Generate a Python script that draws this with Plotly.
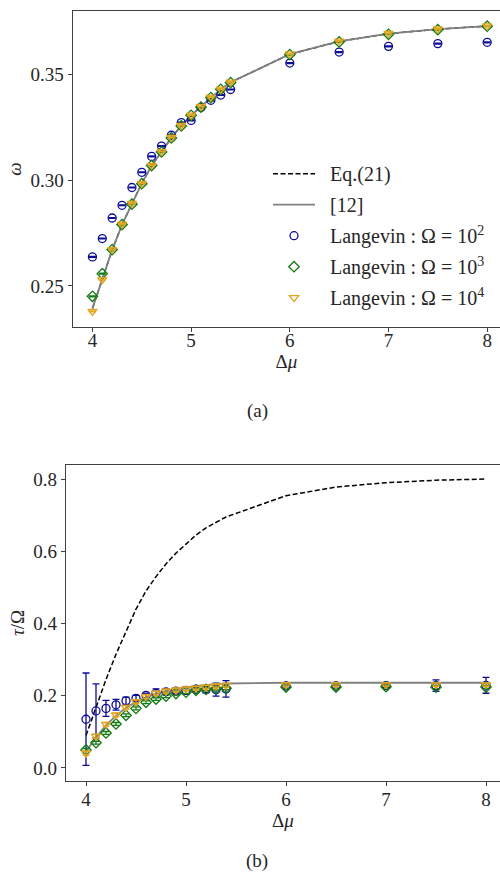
import plotly.graph_objects as go

# Chemical potential difference values where the model was evaluated
dmu = [4.0, 4.1, 4.2, 4.3, 4.4, 4.5, 4.6, 4.7, 4.8, 4.9, 5.0, 5.1, 5.2, 5.3, 5.4,
       6.0, 6.5, 7.0, 7.5, 8.0]

# ---- panel (a): frequency omega ----
omega_theory = [0.2394, 0.2535, 0.2670, 0.2790, 0.2888, 0.2985, 0.3068, 0.3135, 0.3200,
                0.3257, 0.3306, 0.3348, 0.3390, 0.3428, 0.3462, 0.3595, 0.3655, 0.3692,
                0.3713, 0.3728]
omega_om2 = [0.2637, 0.2724, 0.2821, 0.2881, 0.2965, 0.3037, 0.3112, 0.3161, 0.3212,
             0.3272, 0.3282, 0.3343, 0.3377, 0.3402, 0.3428, 0.3553, 0.3605, 0.3632,
             0.3645, 0.3651]
omega_om3 = [0.2451, 0.2558, 0.2672, 0.2790, 0.2886, 0.2983, 0.3069, 0.3133, 0.3199,
             0.3256, 0.3306, 0.3345, 0.3390, 0.3429, 0.3461, 0.3593, 0.3653, 0.3689,
             0.3711, 0.3727]
omega_om4 = [0.2380, 0.2530, 0.2672, 0.2792, 0.2890, 0.2985, 0.3070, 0.3135, 0.3202,
             0.3258, 0.3307, 0.3348, 0.3392, 0.3430, 0.3463, 0.3596, 0.3657, 0.3693,
             0.3714, 0.3729]
omega_err = [0.0002] * len(dmu)

# ---- panel (b): correlation time tau / Omega ----
tau_eq21 = [0.090, 0.170, 0.245, 0.315, 0.380, 0.440, 0.490, 0.530, 0.565, 0.595,
            0.620, 0.645, 0.665, 0.680, 0.695, 0.754, 0.778, 0.790, 0.797, 0.800]
tau_ref12 = [0.045, 0.085, 0.118, 0.145, 0.167, 0.183, 0.196, 0.206, 0.213, 0.219,
             0.223, 0.227, 0.230, 0.232, 0.234, 0.236, 0.236, 0.236, 0.236, 0.236]
tau_om2 = [0.135, 0.158, 0.165, 0.175, 0.186, 0.193, 0.201, 0.207, 0.211, 0.213,
           0.215, 0.218, 0.217, 0.217, 0.219, 0.227, 0.227, 0.228, 0.228, 0.229]
tau_om2_err = [0.128, 0.075, 0.022, 0.015, 0.010, 0.008, 0.006, 0.012, 0.008, 0.008,
               0.010, 0.006, 0.008, 0.018, 0.023, 0.006, 0.006, 0.005, 0.016, 0.022]
tau_om3 = [0.050, 0.070, 0.097, 0.122, 0.146, 0.165, 0.182, 0.191, 0.199, 0.206,
           0.210, 0.215, 0.218, 0.220, 0.221, 0.224, 0.224, 0.225, 0.224, 0.224]
tau_om3_err = [0.004] * len(dmu)
tau_om4 = [0.041, 0.088, 0.121, 0.147, 0.168, 0.184, 0.198, 0.207, 0.213, 0.216,
           0.219, 0.221, 0.224, 0.227, 0.229, 0.231, 0.231, 0.231, 0.231, 0.231]
tau_om4_err = [0.005] * len(dmu)

BLUE = "#0b0b96"
GREEN = "#117a11"
GOLD = "#e3a41e"
FONT = "Liberation Serif, DejaVu Serif, serif"
TXT = "#262626"
AX = "#404040"
PAD = "\u00a0\u00a0"

series = [
    (PAD + "Langevin : Ω = 10<sup>2</sup>", BLUE, "circle-open", 8),
    (PAD + "Langevin : Ω = 10<sup>3</sup>", GREEN, "diamond-open", 8),
    (PAD + "Langevin : Ω = 10<sup>4</sup>", GOLD, "triangle-down-open", 8),
]

fig = go.Figure()

# Panel (a)
fig.add_trace(go.Scatter(x=dmu, y=omega_theory, mode="lines", name=PAD + "Eq.(21)",
                         legendgroup="eq21",
                         line=dict(color="black", width=1.5, dash="5px,2.5px"),
                         xaxis="x", yaxis="y"))
fig.add_trace(go.Scatter(x=dmu, y=omega_theory, mode="lines", name=PAD + "[12]",
                         legendgroup="ref12",
                         line=dict(color="#808080", width=1.8),
                         xaxis="x", yaxis="y"))
for i, ((name, col, sym, size), vals) in enumerate(zip(series, [omega_om2, omega_om3, omega_om4])):
    fig.add_trace(go.Scatter(
        x=dmu, y=vals, mode="markers", name=name, legendgroup=f"lang{i}",
        marker=dict(symbol=sym, size=size, color=col, line=dict(width=1.3, color=col)),
        error_y=dict(type="data", array=omega_err, color=col, thickness=1.3, width=3.5),
        xaxis="x", yaxis="y"))

# Panel (b)
fig.add_trace(go.Scatter(x=dmu, y=tau_eq21, mode="lines", showlegend=False,
                         legendgroup="eq21",
                         line=dict(color="black", width=1.5, dash="5px,2.5px"),
                         xaxis="x2", yaxis="y2"))
fig.add_trace(go.Scatter(x=dmu, y=tau_ref12, mode="lines", showlegend=False,
                         legendgroup="ref12",
                         line=dict(color="#808080", width=1.8),
                         xaxis="x2", yaxis="y2"))
for i, ((name, col, sym, size), vals, errs) in enumerate(zip(
        series, [tau_om2, tau_om3, tau_om4], [tau_om2_err, tau_om3_err, tau_om4_err])):
    fig.add_trace(go.Scatter(
        x=dmu, y=vals, mode="markers", showlegend=False, legendgroup=f"lang{i}",
        marker=dict(symbol=sym, size=size, color=col, line=dict(width=1.3, color=col)),
        error_y=dict(type="data", array=errs, color=col, thickness=1.3, width=3.5),
        xaxis="x2", yaxis="y2"))

axis_common = dict(showgrid=False, zeroline=False, showline=True, linecolor=AX,
                   linewidth=1.25, ticks="outside", ticklen=4, tickwidth=1.1,
                   tickcolor=AX, tickfont=dict(family=FONT, size=19, color=TXT))

fig.update_layout(
    width=500, height=876,
    margin=dict(l=0, r=0, t=0, b=0),
    paper_bgcolor="white", plot_bgcolor="white",
    font=dict(family=FONT, size=19, color=TXT),
    xaxis=dict(domain=[0.1454, 1.0], range=[3.80, 8.13], anchor="y", mirror=True,
               tickvals=[4, 5, 6, 7, 8], ticklabelstandoff=-8,
               title=dict(text="Δ<i>μ</i>", standoff=0, font=dict(family=FONT, size=19)),
               **axis_common),
    yaxis=dict(domain=[0.62671, 0.98744], range=[0.2306, 0.3799], anchor="x",
               tickvals=[0.25, 0.30, 0.35], tickformat=".2f",
               title=dict(text="<i>ω</i>", standoff=3, font=dict(family=FONT, size=19)),
               **axis_common),
    xaxis2=dict(domain=[0.132, 1.0], range=[3.80, 8.14], anchor="y2", mirror=True,
                tickvals=[4, 5, 6, 7, 8], ticklabelstandoff=-3,
                title=dict(text="Δ<i>μ</i>", standoff=0, font=dict(family=FONT, size=19)),
                **axis_common),
    yaxis2=dict(domain=[0.10845, 0.46918], range=[-0.036, 0.839], anchor="x2",
                tickvals=[0.0, 0.2, 0.4, 0.6, 0.8], tickformat=".1f",
                title=dict(text="<i>τ</i>/Ω", standoff=3, font=dict(family=FONT, size=19)),
                **axis_common),
    legend=dict(x=0.536, y=0.824, xanchor="left", yanchor="top",
                bgcolor="rgba(255,255,255,0)", borderwidth=0, itemwidth=42,
                tracegroupgap=2,
                font=dict(family=FONT, size=20, color=TXT)),
    annotations=[
        dict(text="(a)", x=257 / 500, y=1 - 411 / 876, xref="paper", yref="paper",
             xanchor="center", yanchor="middle", showarrow=False,
             font=dict(family=FONT, size=19, color=TXT)),
        dict(text="(b)", x=257 / 500, y=1 - 861 / 876, xref="paper", yref="paper",
             xanchor="center", yanchor="middle", showarrow=False,
             font=dict(family=FONT, size=19, color=TXT)),
    ],
)

fig.write_html("out.html")
